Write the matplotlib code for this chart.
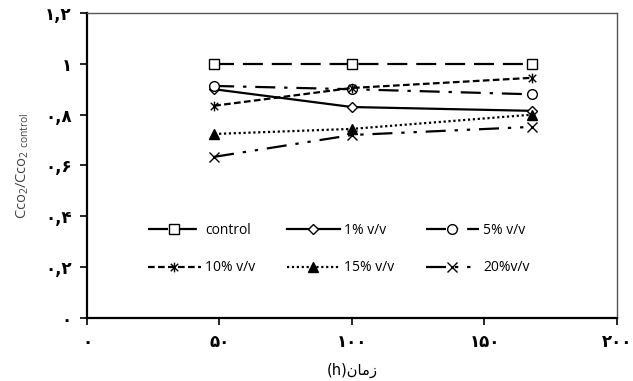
import numpy as np
import matplotlib
matplotlib.use('Agg')
import matplotlib.pyplot as plt
from matplotlib.path import Path

plt.rcParams['font.family'] = ['Open Sans', 'DejaVu Sans']
plt.rcParams['mathtext.default'] = 'regular'

hours = [48, 100, 168]
control = [1.0, 1.0, 1.0]
v1 = [0.90, 0.83, 0.815]
v5 = [0.913, 0.90, 0.88]
v10 = [0.835, 0.905, 0.945]
v15 = [0.724, 0.744, 0.80]
v20 = [0.634, 0.72, 0.752]

y_ticks = [0, 0.2, 0.4, 0.6, 0.8, 1.0, 1.2]
y_labels = ['۰', '۰,۲', '۰,۴', '۰,۶', '۰,۸', '۱', '۱,۲']
x_ticks = [0, 50, 100, 150, 200]
x_labels = ['۰', '۵۰', '۱۰۰', '۱۵۰', '۲۰۰']
# pre-shaped glyphs for "زمان", laid out left to right
x_title = '(h)' + '\uFEE5\uFE8E\uFEE3\uFEAF'

asterisk = Path([(-1, -1), (1, 1), (-1, 1), (1, -1), (0, -1.3), (0, 1.3)],
                [Path.MOVETO, Path.LINETO, Path.MOVETO, Path.LINETO, Path.MOVETO, Path.LINETO])

fig = plt.figure(figsize=(6.33, 3.81), dpi=100)
ax = fig.add_axes([0.1374, 0.1654, 0.8373, 0.8005])

kw = dict(color='black', lw=1.6, markersize=7, markeredgewidth=1.0)
h_c, = ax.plot(hours, control, marker='s', mfc='white', dashes=(9, 4), label='control', **kw)
h_1, = ax.plot(hours, v1, marker='D', mfc='white', ls='-', label='1% v/v',
               **dict(kw, markersize=5.5))
h_5, = ax.plot(hours, v5, marker='o', mfc='white', dashes=(9, 4, 1.5, 4), label='5% v/v', **kw)
h_10, = ax.plot(hours, v10, marker=asterisk, dashes=(3, 1.5), label='10% v/v', **kw)
h_15, = ax.plot(hours, v15, marker='^', mfc='black', dashes=(1, 1.2), label='15% v/v', **kw)
h_20, = ax.plot(hours, v20, marker='x', dashes=(9, 4, 1.5, 4, 1.5, 4), label='20%v/v', **kw)

ax.set_xlim(0, 200)
ax.set_ylim(0, 1.2)
ax.set_xticks(x_ticks)
ax.set_xticklabels(x_labels, family=['DejaVu Sans'], fontweight='bold', fontsize=12)
ax.set_yticks(y_ticks)
ax.set_yticklabels(y_labels, family=['DejaVu Sans'], fontweight='bold', fontsize=12)
ax.tick_params(axis='both', direction='out', length=5, width=1.2, pad=6)

for side in ['left', 'bottom']:
    ax.spines[side].set_linewidth(1.6)
for side in ['top', 'right']:
    ax.spines[side].set_linewidth(1.0)
    ax.spines[side].set_color('#555555')

ax.set_ylabel(r'Cco$_2$/Cco$_{2\ control}$', fontsize=10.5, color='#444444', labelpad=10)
ax.set_xlabel(x_title, family=['DejaVu Sans'], fontsize=10.5, labelpad=8)

handles = [h_c, h_10, h_1, h_15, h_5, h_20]
ax.legend(handles=handles, labels=[h.get_label() for h in handles], ncol=3,
          loc='center', bbox_to_anchor=(0.475, 0.225), frameon=False,
          fontsize=10, handlelength=3.8, handletextpad=0.3, columnspacing=2.3,
          labelspacing=1.6)

fig.savefig('out.png', dpi=100)
